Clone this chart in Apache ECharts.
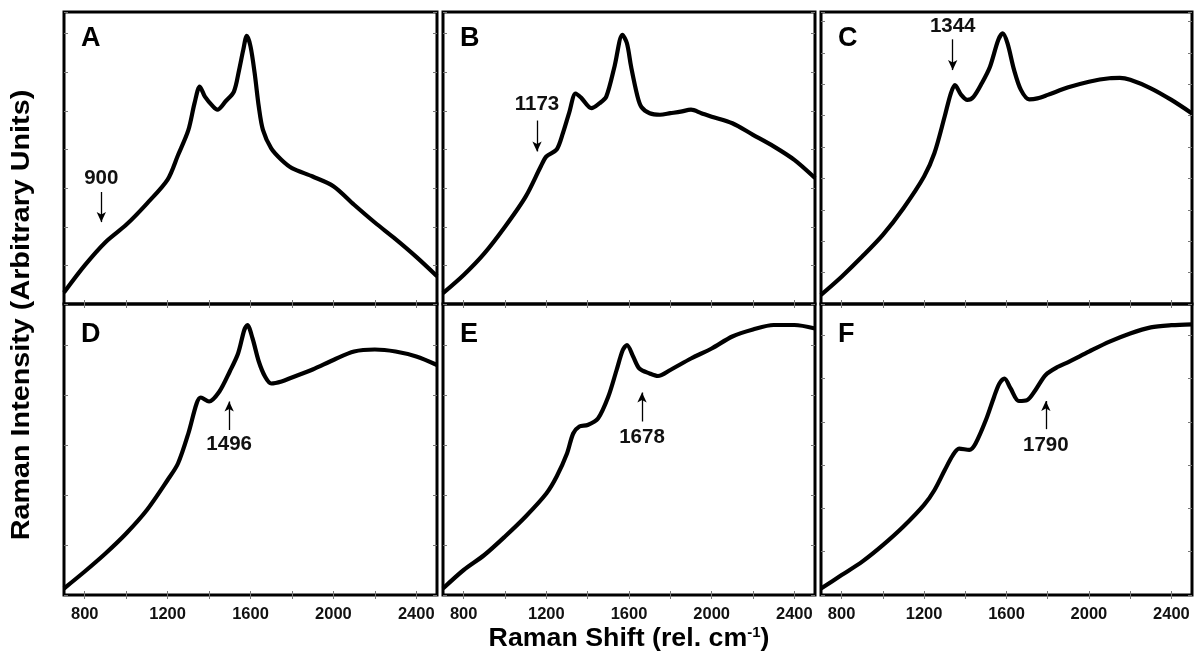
<!DOCTYPE html>
<html><head><meta charset="utf-8">
<script src="https://cdn.jsdelivr.net/npm/echarts@6/dist/echarts.min.js"></script>
<style>html,body{margin:0;padding:0;background:#fff}#c{width:1195px;height:654px}</style>
</head><body><div id="c"></div>
<script>
// ---------------- data ----------------
const panelNames = ['A','B','C','D','E','F'];

const shiftA = [700,800,900,1000,1100,1200,1250,1300,1330,1355,1380,1420,1440,1480,1520,1545,1565,1582,1600,1620,1640,1660,1700,1750,1800,1900,2000,2100,2200,2300,2400,2500];
const intA   = [0.30,1.00,1.60,2.05,2.60,3.22,3.85,4.50,5.20,5.63,5.37,5.11,5.03,5.25,5.50,6.06,6.58,6.94,6.67,5.98,5.11,4.51,4.03,3.73,3.52,3.30,3.05,2.57,2.11,1.68,1.22,0.72];

const shiftB = [700,800,900,1000,1100,1173,1200,1250,1280,1310,1342,1370,1418,1458,1490,1530,1568,1590,1610,1640,1660,1700,1750,1800,1850,1900,1950,2000,2100,2200,2300,2400,2500];
const intB   = [0.28,0.75,1.31,2.00,2.78,3.56,3.82,4.00,4.42,4.94,5.45,5.33,5.07,5.20,5.37,6.15,6.97,6.75,6.15,5.40,5.10,4.94,4.90,4.94,4.98,5.03,4.94,4.85,4.68,4.38,4.08,3.73,3.26];

const shiftC = [700,800,900,1000,1100,1200,1250,1300,1330,1350,1380,1410,1440,1480,1520,1560,1582,1605,1637,1670,1710,1750,1800,1900,2000,2100,2150,2200,2300,2400,2500];
const intC   = [0.29,0.87,1.51,2.20,3.05,4.06,4.80,5.97,6.71,6.97,6.66,6.50,6.60,7.03,7.56,8.41,8.62,8.30,7.45,6.82,6.52,6.55,6.66,6.90,7.08,7.19,7.20,7.14,6.87,6.50,6.07];

const shiftD = [700,800,900,1000,1100,1200,1250,1300,1340,1360,1400,1450,1500,1540,1570,1585,1610,1640,1670,1700,1750,1800,1900,2000,2100,2200,2300,2400,2500];
const intD   = [0.13,0.47,0.83,1.23,1.70,2.30,2.63,3.23,3.83,3.95,3.87,4.07,4.47,4.83,5.30,5.40,5.13,4.67,4.37,4.23,4.27,4.35,4.51,4.70,4.87,4.91,4.87,4.77,4.60];

const shiftE = [700,800,900,1000,1100,1200,1250,1300,1330,1360,1400,1450,1500,1540,1570,1590,1620,1650,1700,1740,1800,1900,2000,2100,2200,2300,2400,2500];
const intE   = [0.13,0.50,0.80,1.17,1.57,2.03,2.37,2.83,3.23,3.37,3.40,3.53,3.97,4.50,4.90,5.00,4.77,4.53,4.43,4.38,4.50,4.73,4.93,5.17,5.31,5.40,5.40,5.33];

const shiftF = [700,800,900,1000,1100,1200,1250,1300,1340,1370,1420,1450,1500,1540,1565,1590,1620,1660,1700,1740,1790,1850,1900,2000,2100,2200,2300,2400,2500];
const intF   = [0.15,0.46,0.77,1.15,1.58,2.08,2.42,2.88,3.23,3.38,3.35,3.50,4.04,4.58,4.88,5.00,4.77,4.48,4.50,4.73,5.08,5.27,5.38,5.62,5.85,6.04,6.18,6.23,6.25];

const panelShifts = [shiftA, shiftB, shiftC, shiftD, shiftE, shiftF];
const panelIntensities = [intA, intB, intC, intD, intE, intF];
const panelYMax = [7.56, 7.56, 9.3, 5.82, 5.82, 6.72];

// annotations (arrow + label), in data units of each panel
const annotText   = ['900','1173','1344','1496','1678','1790'];
const annotShift  = [880, 1155, 1339, 1497, 1663, 1791];
const annotLabelY = [3.26, 5.18, 8.85, 3.02, 3.15, 3.46];
const annotTailY  = [2.90, 4.75, 8.43, 3.30, 3.47, 3.83];
const annotTipY   = [2.12, 3.95, 7.45, 3.87, 4.05, 4.48];

const xTickValues  = [800,1000,1200,1400,1600,1800,2000,2200,2400];
const xLabelValues = [800,1200,1600,2000,2400];
const xMin = 700, xMax = 2500;

const xTitle = 'Raman Shift (rel. cm';
const xTitleSup = '-1';
const yTitle = 'Raman Intensity (Arbitrary Units)';

// ---------------- layout ----------------
const FONT = '"Liberation Sans", Arial, Helvetica, sans-serif';
const layout = [
  {left:64,  top:12,  width:373, height:292},
  {left:443, top:12,  width:372, height:292},
  {left:821, top:12,  width:371, height:292},
  {left:64,  top:304, width:373, height:291},
  {left:443, top:304, width:372, height:291},
  {left:821, top:304, width:371, height:291}
];

const chart = echarts.init(document.getElementById('c'), null, {renderer:'canvas'});

const grid = [], xAxis = [], yAxis = [], series = [], graphic = [];
const tickStyle = {color:'#777', width:1};

layout.forEach((g, i) => {
  const bottomRow = i >= 3;
  grid.push({left:g.left, top:g.top, width:g.width, height:g.height, show:true,
             borderColor:'#000', borderWidth:3, backgroundColor:'transparent', containLabel:false});
  xAxis.push({type:'value', gridIndex:i, position:'bottom', min:xMin, max:xMax,
    axisLine:{show:false}, splitLine:{show:false},
    axisTick:{show:true, inside:true, length:4, customValues:xTickValues, lineStyle:tickStyle},
    axisLabel:{show:bottomRow, customValues:xLabelValues, margin:11, color:'#111',
               fontSize:16.5, fontWeight:'bold', fontFamily:FONT, formatter: v => String(v)}});
  xAxis.push({type:'value', gridIndex:i, position:'top', min:xMin, max:xMax,
    axisLine:{show:false}, splitLine:{show:false},
    axisTick:{show:true, inside:true, length:4, customValues:xTickValues, lineStyle:tickStyle},
    axisLabel:{show:false}});
  ['left','right'].forEach(pos => {
    yAxis.push({type:'value', gridIndex:i, position:pos, min:0, max:panelYMax[i], interval:1,
      axisLine:{show:false}, splitLine:{show:false},
      axisTick:{show:true, inside:true, length:4, lineStyle:tickStyle},
      axisLabel:{show:false}});
  });

  const data = panelShifts[i].map((x, k) => [x, panelIntensities[i][k]]);
  series.push({
    type:'line', xAxisIndex:2*i, yAxisIndex:2*i, data:data,
    showSymbol:false, smooth:0.3, clip:true, animation:false, silent:true,
    lineStyle:{color:'#000', width:4.2},
    markLine:{silent:true, animation:false, symbol:['none','arrow'], symbolSize:[7,10],
      lineStyle:{color:'#000', width:1.3, type:'solid'}, label:{show:false},
      emphasis:{disabled:true},
      data:[[{coord:[annotShift[i], annotTailY[i]]},{coord:[annotShift[i], annotTipY[i]]}]]},
    markPoint:{silent:true, animation:false, symbol:'circle', symbolSize:1,
      itemStyle:{color:'rgba(0,0,0,0)'},
      label:{show:true, position:'inside', color:'#111', fontSize:20.5, fontWeight:'bold', fontFamily:FONT,
             formatter: () => annotText[i]},
      data:[{coord:[annotShift[i], annotLabelY[i]]}]}
  });

  graphic.push({type:'text', silent:true,
    style:{text:panelNames[i], x:g.left+17, y:g.top + (bottomRow ? 31 : 27),
           font:'bold 27px ' + FONT, fill:'#000', align:'left', verticalAlign:'middle'}});
});

graphic.push({type:'text', silent:true, x:629, y:639, scaleX:1.07,
  style:{text:'{a|' + xTitle + '}{s|' + xTitleSup + '}{a|)}', x:0, y:0, align:'center', verticalAlign:'middle',
    rich:{a:{font:'bold 25px ' + FONT, fill:'#000'}, s:{font:'bold 14px ' + FONT, fill:'#000', verticalAlign:'top'}}}});
graphic.push({type:'text', silent:true, x:22, y:315, rotation:Math.PI/2, scaleX:1.15,
  style:{text:yTitle, x:0, y:0, align:'center', verticalAlign:'middle',
    font:'bold 25px ' + FONT, fill:'#000'}});

chart.setOption({animation:false, backgroundColor:'#fff', grid, xAxis, yAxis, series, graphic});
</script></body></html>
